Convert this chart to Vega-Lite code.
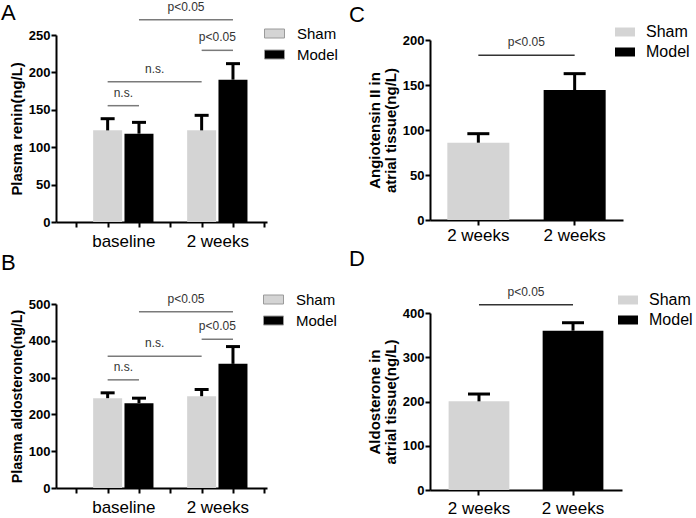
{
  "$schema": "https://vega.github.io/schema/vega-lite/v6.json",
  "background": "white",
  "padding": {"left": 1, "top": 0, "right": 0, "bottom": 0},
  "config": {
    "font": "Liberation Sans",
    "view": {"stroke": null},
    "axis": {"domainColor": "black", "domainWidth": 2, "tickColor": "black", "tickWidth": 2, "tickSize": 5, "grid": false, "labelColor": "black", "titleColor": "black", "labelFont": "Liberation Sans", "titleFont": "Liberation Sans", "labelOverlap": false},
    "axisY": {"labelFontWeight": "bold", "labelFontSize": 13, "titleFontWeight": "bold", "titleFontSize": 14.5, "labelPadding": 1, "titlePadding": 4, "labelOverlap": false},
    "axisX": {"labelFontSize": 17, "labelFontWeight": "normal", "labelPadding": 6, "labelAngle": 0, "title": null},
    "legend": {"symbolType": "M-1,-0.45H1V0.45H-1Z", "symbolSize": 400, "labelFont": "Liberation Sans", "labelColor": "black", "labelOffset": 12, "rowPadding": 2, "padding": 0, "symbolOpacity": 1, "title": null},
    "title": {"fontSize": 22, "fontWeight": "normal", "anchor": "start", "frame": "group", "color": "black", "baseline": "alphabetic", "font": "Liberation Sans"}
  },
  "datasets": {
    "A": [
      {"group": "baseline", "series": "Sham", "bar": "baseline Sham", "mean": 122.5, "upper": 138.1},
      {"group": "baseline", "series": "Model", "bar": "baseline Model", "mean": 118.1, "upper": 133.2},
      {"group": "2 weeks", "series": "Sham", "bar": "2 weeks Sham", "mean": 122.5, "upper": 142.6},
      {"group": "2 weeks", "series": "Model", "bar": "2 weeks Model", "mean": 190.3, "upper": 211.7}
    ],
    "A_sig": [
      {"from": "baseline Sham", "to": "baseline Model", "mid": "baseline mid", "y": 155.5, "label": "n.s."},
      {"from": "baseline Sham", "to": "2 weeks Sham", "mid": "Sham pair mid", "y": 187.6, "label": "n.s."},
      {"from": "2 weeks Sham", "to": "2 weeks Model", "mid": "2 weeks mid", "y": 229.5, "label": "p<0.05"},
      {"from": "baseline Model", "to": "2 weeks Model", "mid": "Model pair mid", "y": 270.5, "label": "p<0.05"}
    ],
    "B": [
      {"group": "baseline", "series": "Sham", "bar": "baseline Sham", "mean": 244.1, "upper": 258.6},
      {"group": "baseline", "series": "Model", "bar": "baseline Model", "mean": 230.6, "upper": 244.1},
      {"group": "2 weeks", "series": "Sham", "bar": "2 weeks Sham", "mean": 249.5, "upper": 267.6},
      {"group": "2 weeks", "series": "Model", "bar": "2 weeks Model", "mean": 337.3, "upper": 384.3}
    ],
    "B_sig": [
      {"from": "baseline Sham", "to": "baseline Model", "mid": "baseline mid", "y": 293.9, "label": "n.s."},
      {"from": "baseline Sham", "to": "2 weeks Sham", "mid": "Sham pair mid", "y": 358, "label": "n.s."},
      {"from": "2 weeks Sham", "to": "2 weeks Model", "mid": "2 weeks mid", "y": 404.2, "label": "p<0.05"},
      {"from": "baseline Model", "to": "2 weeks Model", "mid": "Model pair mid", "y": 479.2, "label": "p<0.05"}
    ],
    "C": [
      {"series": "Sham", "mean": 85.9, "upper": 95.9},
      {"series": "Model", "mean": 144.4, "upper": 162.6}
    ],
    "C_sig": [
      {"from": "Sham", "to": "Model", "y": 183, "label": "p<0.05"}
    ],
    "D": [
      {"series": "Sham", "mean": 200.4, "upper": 216.9},
      {"series": "Model", "mean": 360, "upper": 378}
    ],
    "D_sig": [
      {"from": "Sham", "to": "Model", "y": 418.8, "label": "p<0.05"}
    ]
  },
  "bounds": "flush",
  "columns": 2,
  "spacing": {"row": 82, "column": 163},
  "resolve": {"scale": {"color": "independent"}, "legend": {"color": "independent"}},
  "concat": [
    {
      "width": 211,
      "height": 187,
      "title": {"text": "A", "dx": -55, "dy": 28.5},
      "layer": [
        {
          "data": {"name": "A"},
          "mark": {"type": "bar", "width": 29},
          "encoding": {
            "x": {"field": "bar", "type": "nominal", "scale": {"type": "point", "domain": ["p0", "h0", "baseline Sham", "baseline mid", "baseline Model", "Sham pair mid", "p3", "Model pair mid", "2 weeks Sham", "2 weeks mid", "2 weeks Model", "h5", "p6"], "padding": 0.734, "align": 0.883},
              "axis": {"title": null, "values": ["p0", "baseline Sham", "baseline Model", "p3", "2 weeks Sham", "2 weeks Model", "p6"], "labelExpr": "datum.value == 'baseline Sham' ? 'baseline' : datum.value == '2 weeks Sham' ? '2 weeks' : ''", "labelOffset": 15.7}},
            "y": {"field": "mean", "type": "quantitative", "scale": {"domain": [0, 250], "nice": false}, "axis": {"values": [0, 50, 100, 150, 200, 250], "tickCount": 6, "labelOverlap": false, "title": "Plasma renin(ng/L)", "titleFontSize": 14.8}},
            "color": {"field": "series", "type": "nominal", "scale": {"domain": ["Sham", "Model"], "range": ["#d4d4d4", "#000000"]},
              "legend": {"orient": "none", "legendX": 208, "legendY": -12, "labelFontSize": 15, "symbolStrokeColor": "#9a9a9a", "symbolStrokeWidth": 1}}
          }
        },
        {
          "data": {"name": "A"},
          "mark": {"type": "rule", "strokeWidth": 3, "color": "black"},
          "encoding": {"x": {"field": "bar", "type": "nominal"}, "y": {"field": "mean", "type": "quantitative"}, "y2": {"field": "upper"}}
        },
        {
          "data": {"name": "A"},
          "mark": {"type": "tick", "orient": "horizontal", "size": 14, "thickness": 3, "color": "black", "opacity": 1},
          "encoding": {"x": {"field": "bar", "type": "nominal"}, "y": {"field": "upper", "type": "quantitative"}}
        },
        {
          "data": {"name": "A_sig"},
          "mark": {"type": "rule", "color": "#7a7a7a", "strokeWidth": 1.5},
          "encoding": {"x": {"field": "from", "type": "nominal"}, "x2": {"field": "to"}, "y": {"field": "y", "type": "quantitative"}}
        },
        {
          "data": {"name": "A_sig"},
          "mark": {"type": "text", "fontSize": 12, "color": "#333333", "dy": -9, "baseline": "alphabetic"},
          "encoding": {"x": {"field": "mid", "type": "nominal"}, "y": {"field": "y", "type": "quantitative"}, "text": {"field": "label"}}
        }
      ]
    },
    {
      "width": 193,
      "height": 185,
      "title": {"text": "C", "dx": -81, "dy": 8.7},
      "layer": [
        {
          "data": {"name": "C"},
          "mark": {"type": "bar"},
          "encoding": {
            "x": {"field": "series", "type": "nominal", "scale": {"domain": ["Sham", "Model"], "paddingInner": 0.356, "paddingOuter": 0.18},
              "axis": {"title": null, "labelExpr": "'2 weeks'", "labelPadding": 2}},
            "y": {"field": "mean", "type": "quantitative", "scale": {"domain": [0, 200], "nice": false, "range": [185, 5]}, "axis": {"values": [0, 50, 100, 150, 200], "labelOverlap": false, "title": ["Angiotensin II in", "atrial tissue(ng/L)"], "titleFontSize": 15, "titleLineHeight": 16}},
            "color": {"field": "series", "type": "nominal", "scale": {"domain": ["Sham", "Model"], "range": ["#d4d4d4", "#000000"]},
              "legend": {"orient": "none", "legendX": 185, "legendY": -13, "labelFontSize": 16, "labelOffset": 11, "symbolStrokeWidth": 0}}
          }
        },
        {
          "data": {"name": "C"},
          "mark": {"type": "rule", "strokeWidth": 3, "color": "black"},
          "encoding": {"x": {"field": "series", "type": "nominal"}, "y": {"field": "mean", "type": "quantitative"}, "y2": {"field": "upper"}}
        },
        {
          "data": {"name": "C"},
          "mark": {"type": "tick", "orient": "horizontal", "size": 22, "thickness": 3, "color": "black", "opacity": 1},
          "encoding": {"x": {"field": "series", "type": "nominal"}, "y": {"field": "upper", "type": "quantitative"}}
        },
        {
          "data": {"name": "C_sig"},
          "mark": {"type": "rule", "color": "#333333", "strokeWidth": 1.5},
          "encoding": {"x": {"field": "from", "type": "nominal", "bandPosition": 0.5}, "x2": {"field": "to", "bandPosition": 0.5}, "y": {"field": "y", "type": "quantitative"}}
        },
        {
          "data": {"name": "C_sig"},
          "mark": {"type": "text", "fontSize": 12, "color": "#333333", "dy": -9, "dx": 48, "baseline": "alphabetic"},
          "encoding": {"x": {"field": "from", "type": "nominal"}, "y": {"field": "y", "type": "quantitative"}, "text": {"field": "label"}}
        }
      ]
    },
    {
      "width": 211,
      "height": 184,
      "title": {"text": "B", "dx": -55, "dy": -10.5},
      "layer": [
        {
          "data": {"name": "B"},
          "mark": {"type": "bar", "width": 29},
          "encoding": {
            "x": {"field": "bar", "type": "nominal", "scale": {"type": "point", "domain": ["p0", "h0", "baseline Sham", "baseline mid", "baseline Model", "Sham pair mid", "p3", "Model pair mid", "2 weeks Sham", "2 weeks mid", "2 weeks Model", "h5", "p6"], "padding": 0.734, "align": 0.883},
              "axis": {"title": null, "values": ["p0", "baseline Sham", "baseline Model", "p3", "2 weeks Sham", "2 weeks Model", "p6"], "labelExpr": "datum.value == 'baseline Sham' ? 'baseline' : datum.value == '2 weeks Sham' ? '2 weeks' : ''", "labelOffset": 15.7}},
            "y": {"field": "mean", "type": "quantitative", "scale": {"domain": [0, 500], "nice": false}, "axis": {"values": [0, 100, 200, 300, 400, 500], "tickCount": 6, "labelOverlap": false, "title": "Plasma aldosterone(ng/L)", "titleFontSize": 14.2}},
            "color": {"field": "series", "type": "nominal", "scale": {"domain": ["Sham", "Model"], "range": ["#d4d4d4", "#000000"]},
              "legend": {"orient": "none", "legendX": 207, "legendY": -15, "labelFontSize": 15, "symbolStrokeColor": "#9a9a9a", "symbolStrokeWidth": 1}}
          }
        },
        {
          "data": {"name": "B"},
          "mark": {"type": "rule", "strokeWidth": 3, "color": "black"},
          "encoding": {"x": {"field": "bar", "type": "nominal"}, "y": {"field": "mean", "type": "quantitative"}, "y2": {"field": "upper"}}
        },
        {
          "data": {"name": "B"},
          "mark": {"type": "tick", "orient": "horizontal", "size": 14, "thickness": 3, "color": "black", "opacity": 1},
          "encoding": {"x": {"field": "bar", "type": "nominal"}, "y": {"field": "upper", "type": "quantitative"}}
        },
        {
          "data": {"name": "B_sig"},
          "mark": {"type": "rule", "color": "#7a7a7a", "strokeWidth": 1.5},
          "encoding": {"x": {"field": "from", "type": "nominal"}, "x2": {"field": "to"}, "y": {"field": "y", "type": "quantitative"}}
        },
        {
          "data": {"name": "B_sig"},
          "mark": {"type": "text", "fontSize": 12, "color": "#333333", "dy": -9, "baseline": "alphabetic"},
          "encoding": {"x": {"field": "mid", "type": "nominal"}, "y": {"field": "y", "type": "quantitative"}, "text": {"field": "label"}}
        }
      ]
    },
    {
      "width": 192,
      "height": 186,
      "title": {"text": "D", "dx": -81, "dy": -10.5},
      "layer": [
        {
          "data": {"name": "D"},
          "mark": {"type": "bar"},
          "encoding": {
            "x": {"field": "series", "type": "nominal", "scale": {"domain": ["Sham", "Model"], "paddingInner": 0.354, "paddingOuter": 0.198},
              "axis": {"title": null, "labelExpr": "'2 weeks'", "labelPadding": 5}},
            "y": {"field": "mean", "type": "quantitative", "scale": {"domain": [0, 400], "nice": false, "range": [186, 9]}, "axis": {"values": [0, 100, 200, 300, 400], "labelOverlap": false, "title": ["Aldosterone in", "atrial tissue(ng/L)"], "titleFontSize": 15, "titleLineHeight": 16}},
            "color": {"field": "series", "type": "nominal", "scale": {"domain": ["Sham", "Model"], "range": ["#d4d4d4", "#000000"]},
              "legend": {"orient": "none", "legendX": 188, "legendY": -14, "labelFontSize": 16, "labelOffset": 11, "symbolStrokeWidth": 0}}
          }
        },
        {
          "data": {"name": "D"},
          "mark": {"type": "rule", "strokeWidth": 3, "color": "black"},
          "encoding": {"x": {"field": "series", "type": "nominal"}, "y": {"field": "mean", "type": "quantitative"}, "y2": {"field": "upper"}}
        },
        {
          "data": {"name": "D"},
          "mark": {"type": "tick", "orient": "horizontal", "size": 22, "thickness": 3, "color": "black", "opacity": 1},
          "encoding": {"x": {"field": "series", "type": "nominal"}, "y": {"field": "upper", "type": "quantitative"}}
        },
        {
          "data": {"name": "D_sig"},
          "mark": {"type": "rule", "color": "#333333", "strokeWidth": 1.5},
          "encoding": {"x": {"field": "from", "type": "nominal", "bandPosition": 0.5}, "x2": {"field": "to", "bandPosition": 0.5}, "y": {"field": "y", "type": "quantitative"}}
        },
        {
          "data": {"name": "D_sig"},
          "mark": {"type": "text", "fontSize": 12, "color": "#333333", "dy": -9, "dx": 47, "baseline": "alphabetic"},
          "encoding": {"x": {"field": "from", "type": "nominal"}, "y": {"field": "y", "type": "quantitative"}, "text": {"field": "label"}}
        }
      ]
    }
  ]
}
